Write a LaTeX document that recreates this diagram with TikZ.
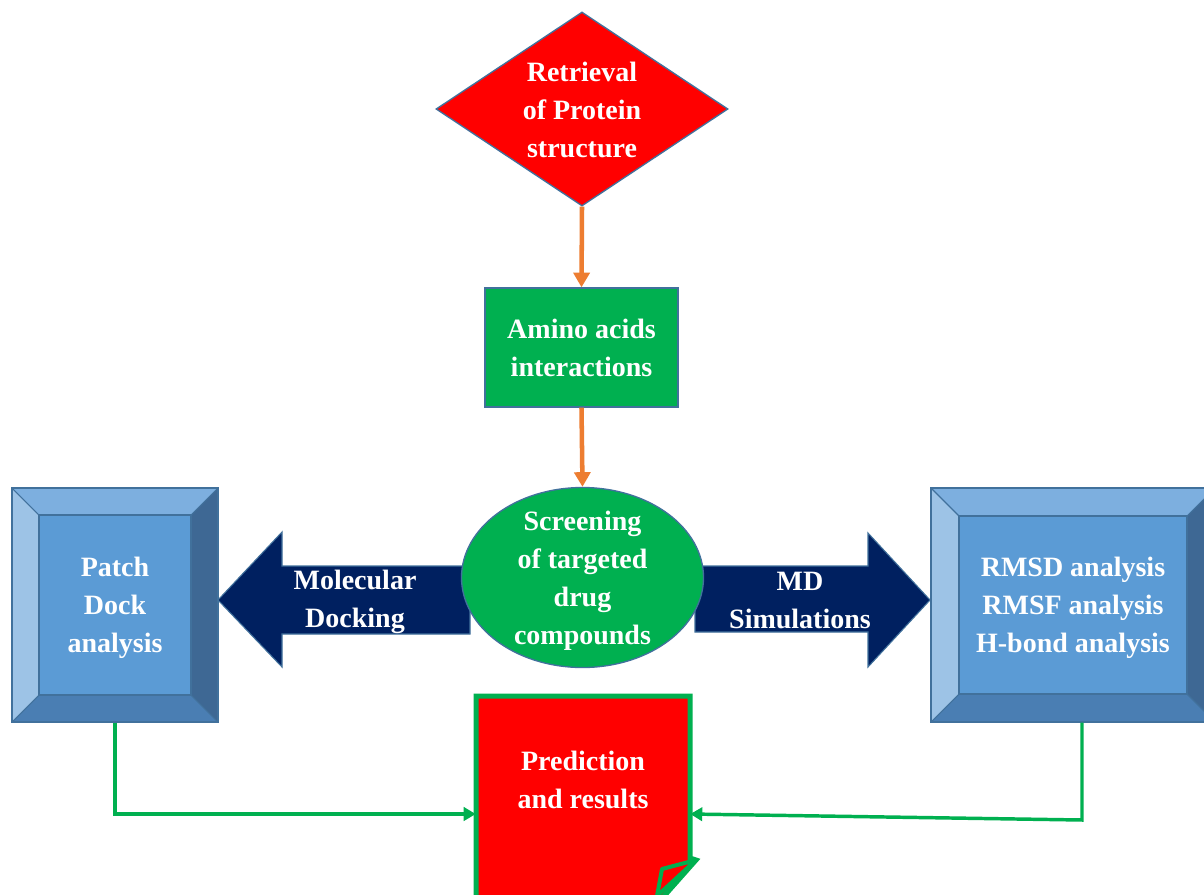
\documentclass[tikz,border=0pt]{standalone}
\usepackage{fontspec}
\setmainfont{Liberation Serif}
\usetikzlibrary{shapes.geometric,arrows.meta}
\definecolor{redc}{HTML}{FF0000}
\definecolor{greenc}{HTML}{00B050}
\definecolor{orangec}{HTML}{ED7D31}
\definecolor{navyc}{HTML}{002060}
\definecolor{bordc}{HTML}{41719C}
\definecolor{bevin}{HTML}{5B9BD5}
\definecolor{bevtop}{HTML}{7DAFDF}
\definecolor{bevleft}{HTML}{9DC3E6}
\definecolor{bevright}{HTML}{3E6894}
\definecolor{bevbot}{HTML}{4A7EB3}
\tikzset{
  lbl/.style={text=white, font=\bfseries\fontsize{21}{28.5}\selectfont, align=center, inner sep=0pt},
  orarrow/.style={draw=orangec, line width=3.4pt, -{Triangle[width=12pt,length=11pt]}},
  grline/.style={draw=greenc, line width=2.6pt, -{Triangle[width=10pt,length=9pt]}},
  outl/.style={draw=bordc, line width=0.8pt},
  blockarrow/.style={fill=navyc, draw=bordc, line width=0.8pt},
}
\begin{document}
\begin{tikzpicture}[x=0.75pt,y=-0.75pt]
\clip (0,0) rectangle (1204,894);
\fill[white] (0,0) rectangle (1204,894);

% diamond
\node[diamond, draw=bordc, fill=redc, line width=1pt, minimum width=219pt, minimum height=145.5pt, inner sep=0pt] (dia) at (582,109) {};
\node[lbl] (diat) at (582,110) {Retrieval\\of Protein\\structure};

% amino box
\node[rectangle, draw=bordc, fill=greenc, line width=1pt, minimum width=144.75pt, minimum height=89.25pt, inner sep=0pt] (amino) at (581.5,347.5) {};
\node[lbl] (aminot) at (581.5,348) {Amino acids\\interactions};

% block arrows
\draw[blockarrow] (218,600) -- (282,532) -- (282,566) -- (470,566) -- (470,634) -- (282,634) -- (282,667) -- cycle;
\draw[blockarrow] (695,566) -- (868,566) -- (868,533) -- (930,600) -- (868,667) -- (868,632) -- (695,632) -- cycle;

% ellipse
\node[ellipse, draw=bordc, fill=greenc, line width=1pt, minimum width=181.5pt, minimum height=135pt, inner sep=0pt] (scr) at (582.5,577.5) {};
\node[lbl] (scrt) at (582.5,581) {Screening\\of targeted\\drug\\compounds};

\node[lbl] (mdock) at (355,602) {Molecular\\Docking};
\node[lbl] (mdsim) at (800,600) {MD\\Simulations};

% left bevel box
\fill[bevtop] (12,488) -- (218,488) -- (191,515) -- (39,515) -- cycle;
\fill[bevleft] (12,488) -- (39,515) -- (39,695) -- (12,722) -- cycle;
\fill[bevright] (218,488) -- (218,722) -- (191,695) -- (191,515) -- cycle;
\fill[bevbot] (12,722) -- (218,722) -- (191,695) -- (39,695) -- cycle;
\filldraw[fill=bevin, outl] (39,515) rectangle (191,695);
\draw[outl] (12,488) -- (39,515) (218,488) -- (191,515) (12,722) -- (39,695) (218,722) -- (191,695);
\node[rectangle, outl, minimum width=154.5pt, minimum height=175.5pt, inner sep=0pt] (lb) at (115,605) {};
\node[lbl] (lbt) at (115,608) {Patch\\Dock\\analysis};

% right bevel box
\fill[bevtop] (931,488) -- (1215,488) -- (1187,516) -- (959,516) -- cycle;
\fill[bevleft] (931,488) -- (959,516) -- (959,694) -- (931,722) -- cycle;
\fill[bevright] (1215,488) -- (1215,722) -- (1187,694) -- (1187,516) -- cycle;
\fill[bevbot] (931,722) -- (1215,722) -- (1187,694) -- (959,694) -- cycle;
\filldraw[fill=bevin, outl] (959,516) rectangle (1187,694);
\draw[outl] (931,488) -- (959,516) (1215,488) -- (1187,516) (931,722) -- (959,694) (1215,722) -- (1187,694);
\node[rectangle, outl, minimum width=213pt, minimum height=175.5pt, inner sep=0pt] (rb) at (1073,605) {};
\node[lbl] (rbt) at (1073,608) {RMSD analysis\\RMSF analysis\\H-bond analysis};

% prediction box
\draw[draw=greenc, fill=redc, line width=3.75pt, line join=miter] (476,696) -- (690,696) -- (690,858) -- (696,860) -- (657,904) -- (476,904) -- cycle;
\draw[draw=greenc, fill=redc, line width=3pt, line join=round] (696,860) -- (662,869) -- (657,896) -- cycle;
\node[rectangle, minimum width=160.5pt, minimum height=177pt, inner sep=0pt] (pred) at (583,814) {};
\node[lbl] (predt) at (583,780) {Prediction\\and results};

% connectors
\draw[orarrow] (dia.south) -- (amino.north);
\draw[orarrow] (amino.south) -- (scr.north);
\draw[grline] (lb.south) |- (pred.west);
\coordinate (rbk) at (1082,820);
\draw[grline] ([xshift=6.75pt]rb.south) -- (rbk) -- (pred.east);
\end{tikzpicture}
\end{document}
